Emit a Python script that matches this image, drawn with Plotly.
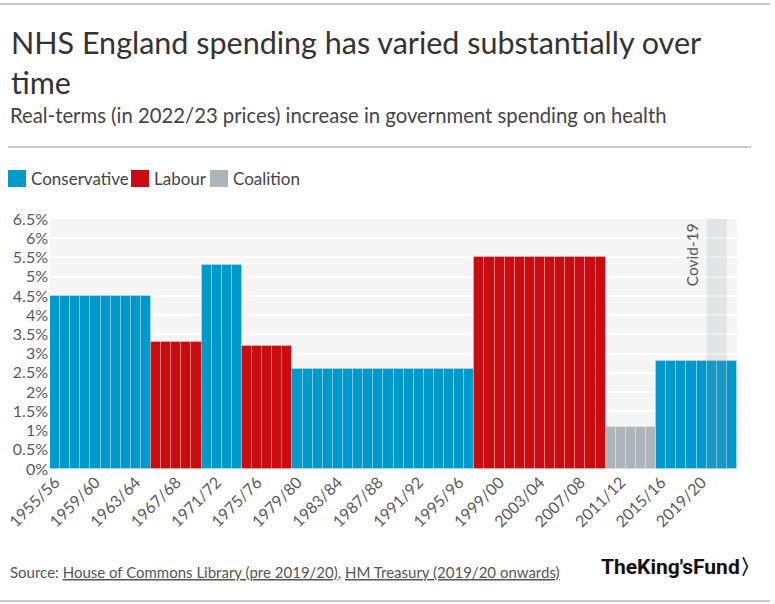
import plotly.graph_objects as go

# financial years 1955/56 .. 2022/23
first_year = 1955
last_year = 2022
years = [f"{y}/{str(y + 1)[-2:]}" for y in range(first_year, last_year + 1)]

# government periods: first financial year, number of years, party, average real-terms growth (%)
period_start = ["1955/56", "1965/66", "1970/71", "1974/75", "1979/80", "1997/98", "2010/11", "2015/16"]
period_length = [10, 5, 4, 5, 18, 13, 5, 8]
period_party = ["Conservative", "Labour", "Conservative", "Labour", "Conservative", "Labour", "Coalition", "Conservative"]
period_growth = [4.5, 3.3, 5.3, 3.2, 2.6, 5.5, 1.1, 2.8]

parties = ["Conservative", "Labour", "Coalition"]
party_colors = {"Conservative": "#0099cc", "Labour": "#c90c0f", "Coalition": "#adb5ba"}

covid_years = ["2020/21", "2021/22"]
tick_labels = years[::4]

W, H = 775, 604
L, R, T, B = 50, 38, 219, 135
PW, PH = W - L - R, H - T - B


def px(x):
    return (x - L) / PW


def py(y):
    return (H - B - y) / PH


# expand each period into one bar per year
bar_x = {p: [] for p in parties}
bar_y = {p: [] for p in parties}
for start, n, party, g in zip(period_start, period_length, period_party, period_growth):
    i0 = years.index(start)
    for yr in years[i0:i0 + n]:
        bar_x[party].append(yr)
        bar_y[party].append(g)

fig = go.Figure()
for p in parties:
    fig.add_trace(go.Bar(
        name=p, x=bar_x[p], y=bar_y[p],
        marker=dict(color=party_colors[p], line=dict(color="rgba(255,255,255,0.25)", width=1)),
        showlegend=False,
    ))

font = "Source Sans Pro, Lato, sans-serif"

fig.update_layout(
    width=W, height=H,
    margin=dict(l=L, r=R, t=T, b=B, autoexpand=False),
    paper_bgcolor="white", plot_bgcolor="#f5f5f5",
    bargap=0,
    font=dict(family=font, color="#555", size=14),
)
fig.update_xaxes(
    type="category", categoryorder="array", categoryarray=years,
    range=[-0.5, len(years) - 0.5], automargin=False,
    tickmode="array", tickvals=tick_labels, ticktext=tick_labels,
    tickangle=-45, showgrid=False, zeroline=False,
    tickfont=dict(size=16, color="#5a5a5a"),
)
fig.update_yaxes(
    range=[0, 6.5], dtick=0.5, ticksuffix="%", automargin=False,
    gridcolor="white", gridwidth=2, zeroline=False,
    tickfont=dict(size=16, color="#5a5a5a"), ticklabelstandoff=1,
)

# covid shading
i_c0 = years.index(covid_years[0])
i_c1 = years.index(covid_years[-1])
fig.add_shape(type="rect", xref="x", yref="y", x0=i_c0 - 0.5, x1=i_c1 + 0.5, y0=0, y1=6.5,
              fillcolor="rgba(140,150,155,0.17)", line=dict(width=0), layer="above")
fig.add_annotation(x=i_c0 - 0.5, y=6.5, xref="x", yref="y", text="Covid-19", textangle=-90,
                   showarrow=False, xanchor="right", yanchor="top", xshift=-4, yshift=-2,
                   font=dict(size=15.5, color="#555"))

# header / footer
fig.add_annotation(x=px(9), y=py(22), xref="paper", yref="paper", xanchor="left", yanchor="top",
                   text="NHS England spending has varied substantially over<br>time", align="left",
                   showarrow=False, font=dict(size=30.5, color="#333", family=font))
fig.add_annotation(x=px(8), y=py(115), xref="paper", yref="paper", xanchor="left", yanchor="middle",
                   text="Real-terms (in 2022/23 prices) increase in government spending on health",
                   showarrow=False, font=dict(size=20.3, color="#444", family=font))

line_col = "#b3b8bc"
for x0, x1, y in [(0, 770, 4), (8, 751, 147), (0, 770, 601)]:
    fig.add_shape(type="line", xref="paper", yref="paper", x0=px(x0), x1=px(x1), y0=py(y), y1=py(y),
                  line=dict(color=line_col, width=1.5))

# legend
legend_x = [8, 131, 210]
for p, lx in zip(parties, legend_x):
    fig.add_shape(type="rect", xref="paper", yref="paper", x0=px(lx), x1=px(lx + 18),
                  y0=py(187), y1=py(170), fillcolor=party_colors[p], line=dict(width=0))
    fig.add_annotation(x=px(lx + 21), y=py(178), xref="paper", yref="paper", xanchor="left",
                       yanchor="middle", text=p, showarrow=False,
                       font=dict(size=17, color="#444", family=font))

fig.add_annotation(x=px(8), y=py(572), xref="paper", yref="paper", xanchor="left", yanchor="middle",
                   text="Source: <u>House of Commons Library (pre 2019/20)</u>, <u>HM Treasury (2019/20 onwards)</u>",
                   showarrow=False, font=dict(size=15, color="#555", family=font))
fig.add_annotation(x=px(753), y=py(567), xref="paper", yref="paper", xanchor="right", yanchor="middle",
                   text="<b>TheKing'sFund〉</b>", showarrow=False, xshift=10,
                   font=dict(size=21, color="#111", family="Liberation Sans Narrow, Roboto, sans-serif"))

# drop the default page margin so the figure sits at the window's top-left corner
fig.write_html("out.html", config={"displayModeBar": False},
               post_script="document.body.style.margin='0';")
